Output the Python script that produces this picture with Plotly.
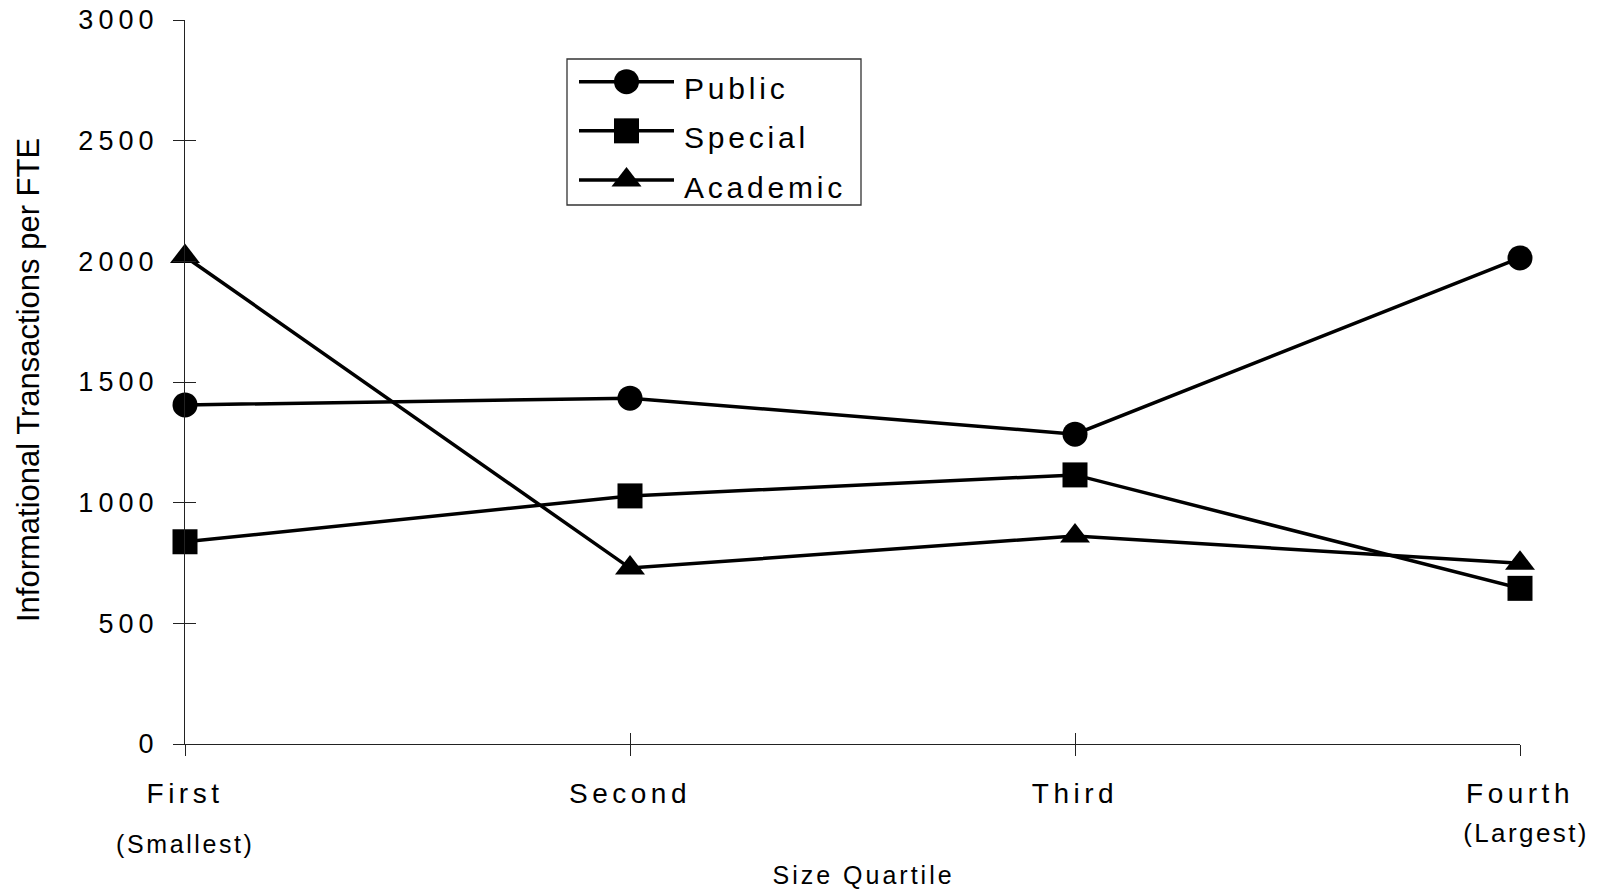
import json
import plotly.graph_objects as go

# ---------------- data ----------------
categories = ["First", "Second", "Third", "Fourth"]
sub_label_first = "(Smallest)"
sub_label_last = "(Largest)"
series_names = ["Public", "Special", "Academic"]
public = [1405, 1433, 1284, 2014]
special = [838, 1028, 1115, 645]
academic = [2020, 729, 862, 749]
y_ticks = [0, 500, 1000, 1500, 2000, 2500, 3000]
x_title = "Size Quartile"
y_title = "Informational Transactions per FTE"

# ---------------- style ----------------
FONT = "Arial, 'Liberation Sans', sans-serif"
AX = "#222222"
symbols = {"Public": "circle", "Special": "square", "Academic": "triangle-up"}
msize = {"Public": 25, "Special": 25, "Academic": 26}
values = {"Public": public, "Special": special, "Academic": academic}

fig = go.Figure()
for name in series_names:
    fig.add_trace(go.Scatter(
        x=categories, y=values[name], mode="lines+markers", name=name,
        line=dict(color="black", width=3.5),
        marker=dict(symbol=symbols[name], size=msize[name], color="black"),
        cliponaxis=False, showlegend=False, xaxis="x", yaxis="y"))

# overlay axes used only for the inner half of the crossing ticks
fig.add_trace(go.Scatter(x=[None], y=[None], xaxis="x2", yaxis="y2",
                         showlegend=False, hoverinfo="skip"))

# custom legend (long sample lines like the reference)
legend_rows = {"Public": 2, "Special": 1, "Academic": 0}
for name in series_names:
    r = legend_rows[name]
    fig.add_trace(go.Scatter(
        x=[0, 0.5, 1], y=[r, r, r], mode="lines",
        line=dict(color="black", width=3.5),
        cliponaxis=False, showlegend=False, hoverinfo="skip",
        xaxis="x3", yaxis="y3"))
    fig.add_trace(go.Scatter(
        x=[0.5], y=[r], mode="markers",
        marker=dict(symbol=symbols[name], size=msize[name], color="black"),
        cliponaxis=False, showlegend=False, hoverinfo="skip",
        xaxis="x3", yaxis="y3"))

W, H = 1602, 892
ML, MR, MT, MB = 185, 82, 20, 148
PW, PH = W - ML - MR, H - MT - MB

def px_x(px):
    return (px - ML) / PW

def px_y(py):
    return (H - MB - py) / PH

annotations = []
ann_spacing = []

annotations.append(dict(text=sub_label_first, xref="x", x=categories[0], yref="paper", y=0,
                        yanchor="middle", yshift=-100, showarrow=False,
                        font=dict(family=FONT, size=25, color="black")))
ann_spacing.append(2.6)
annotations.append(dict(text=sub_label_last, xref="x", x=categories[-1], yref="paper", y=0,
                        yanchor="middle", xshift=6, yshift=-89, showarrow=False,
                        font=dict(family=FONT, size=26, color="black")))
ann_spacing.append(2.4)
annotations.append(dict(text=x_title, xref="paper", x=0.508, yref="paper", y=0,
                        yanchor="middle", yshift=-131, showarrow=False,
                        font=dict(family=FONT, size=25, color="black")))
ann_spacing.append(3.0)
annotations.append(dict(text=y_title, xref="paper", x=0, xanchor="center", xshift=-156,
                        yref="paper", y=px_y(380), yanchor="middle",
                        textangle=-90, showarrow=False,
                        font=dict(family=FONT, size=31, color="black")))
ann_spacing.append(0)
for name in series_names:
    annotations.append(dict(text=name, xref="paper", x=px_x(682), xanchor="left", align="left",
                            yref="y3", y=legend_rows[name], yanchor="middle", yshift=-7,
                            showarrow=False, font=dict(family=FONT, size=30, color="black")))
    ann_spacing.append(3.8)

row_px = 49.15  # pixel distance between legend rows
fig.update_layout(
    width=W, height=H,
    margin=dict(l=ML, r=MR, t=MT, b=MB, autoexpand=False),
    paper_bgcolor="white", plot_bgcolor="white",
    showlegend=False,
    xaxis=dict(type="category", categoryorder="array", categoryarray=categories,
               range=[0, len(categories) - 1], showline=True, linecolor=AX, linewidth=1.3,
               ticks="outside", ticklen=11, tickwidth=1.3, tickcolor=AX,
               tickfont=dict(family=FONT, size=28, color="black"), ticklabelstandoff=13,
               showgrid=False, zeroline=False, fixedrange=True),
    xaxis2=dict(overlaying="x", anchor="y", side="bottom", range=[0, len(categories) - 1],
                tickmode="linear", tick0=0, dtick=1, ticks="inside", ticklen=11, tickwidth=1.3,
                tickcolor=AX, showticklabels=False, showline=False, showgrid=False,
                zeroline=False, fixedrange=True),
    yaxis=dict(range=[0, 3000], tickmode="array", tickvals=y_ticks, showline=True,
               linecolor=AX, linewidth=1.3, ticks="outside", ticklen=11, tickwidth=1.3,
               tickcolor=AX, tickfont=dict(family=FONT, size=27, color="black"),
               ticklabelstandoff=9, showgrid=False, zeroline=False, fixedrange=True),
    yaxis2=dict(overlaying="y", anchor="x", side="left", range=[0, 3000], tickmode="array",
                tickvals=y_ticks, ticks="inside", ticklen=11, tickwidth=1.3, tickcolor=AX,
                showticklabels=False, showline=False, showgrid=False, zeroline=False,
                fixedrange=True),
    xaxis3=dict(domain=[px_x(579), px_x(674)], range=[0, 1], anchor="y3", visible=False,
                fixedrange=True),
    yaxis3=dict(domain=[px_y(180 + row_px / 2), px_y(81.7 - row_px / 2)], range=[-0.5, 2.5],
                anchor="x3", visible=False, fixedrange=True),
    shapes=[dict(type="rect", xref="paper", yref="paper",
                 x0=px_x(567), x1=px_x(861), y0=px_y(205), y1=px_y(59),
                 line=dict(color="#333333", width=1.3), fillcolor="rgba(0,0,0,0)")],
    annotations=annotations,
)

post = """
document.body.style.margin = '0';
var gd = document.getElementById('{plot_id}');
var sp = %s;
function applyLS() {
  gd.querySelectorAll('.xtick text').forEach(function(t){ t.style.letterSpacing = '4.5px'; });
  gd.querySelectorAll('.ytick text').forEach(function(t){ t.style.letterSpacing = '5px'; });
  gd.querySelectorAll('g.annotation').forEach(function(g){
    var i = +g.getAttribute('data-index');
    var t = g.querySelector('text');
    if (t && sp[i]) { t.style.letterSpacing = sp[i] + 'px'; }
  });
}
applyLS();
gd.on('plotly_afterplot', applyLS);
""" % json.dumps(ann_spacing)

fig.write_html("out.html", post_script=post, config={"displayModeBar": False})
